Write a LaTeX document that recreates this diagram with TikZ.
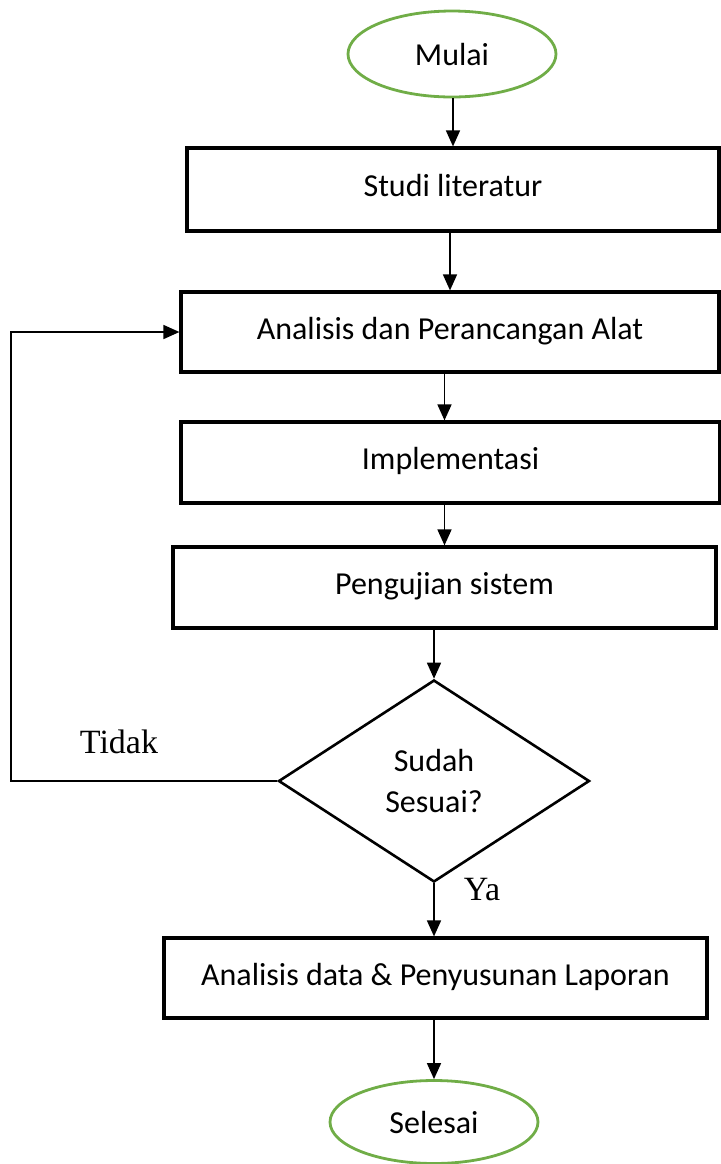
\documentclass[tikz,border=0pt]{standalone}
\usepackage{fontspec}
\setmainfont{Carlito}
\newfontfamily\timesfont{Liberation Serif}
\usetikzlibrary{arrows.meta,shapes}
\definecolor{startgreen}{RGB}{112,173,71}

\begin{document}
\begin{tikzpicture}[
			x=0.5pt, y=-0.5pt,
			font=\fontsize{16}{20.5}\selectfont,
			box/.style={rectangle,draw,line width=1.6pt,text height=11pt,text depth=4pt},
			terminal/.style={ellipse,draw=startgreen,line width=1.4pt,minimum width=104pt},
			line/.style={draw,line width=0.8pt,-{Triangle[length=8pt,width=7pt]}},
			tag/.style={font=\timesfont\fontsize{17}{20}\selectfont},
			]
			\useasboundingbox (0,0) rectangle (721,1164);
			\node [terminal,minimum height=43pt] (mulai) at (452,54) {Mulai};
			\node [box,minimum width=266pt,minimum height=41.5pt] (studi) at (453,189.5) {Studi literatur};
			\node [box,minimum width=269pt,minimum height=40pt] (analisis) at (450,332) {Analisis dan Perancangan Alat};
			\node [box,minimum width=269.5pt,minimum height=40.5pt] (impl) at (450.5,462.5) {Implementasi};
			\node [box,minimum width=271.5pt,minimum height=40.5pt] (uji) at (444.5,587.5) {Pengujian sistem};
			\node [diamond,draw,line width=1.3pt,minimum width=155.5pt,minimum height=101pt,inner sep=0pt,align=center] (cek) at (434,781) {Sudah\\Sesuai?};
			\node [box,minimum width=271.5pt,minimum height=40pt] (lapor) at (435.5,978) {Analisis data \& Penyusunan Laporan};
			\node [terminal,minimum height=41.5pt] (selesai) at (434,1122) {Selesai};
			\node [tag] (tidak) at (119,742) {Tidak};
			\node [tag] (ya) at (482,890) {Ya};
			\coordinate (balik) at (11,778);
			\coordinate (turun) at (analisis.south -| uji.north);
			\path [line] (mulai.south -| studi.north) -- (studi.north);
			\path [line] (studi.south -| analisis.north) -- (analisis.north);
			\path [line] (turun) -- (turun |- impl.north);
			\path [line] (impl.south -| uji.north) -- (uji.north);
			\path [line] (uji.south -| cek.north) -- (cek.north);
			\path [line] (cek.south) -- (cek.south |- lapor.north);
			\path [line] (lapor.south -| selesai.north) -- (selesai.north);
			\path [line] (cek.west) -- (cek.west -| balik) |- (analisis.west);
		\end{tikzpicture}
\end{document}
